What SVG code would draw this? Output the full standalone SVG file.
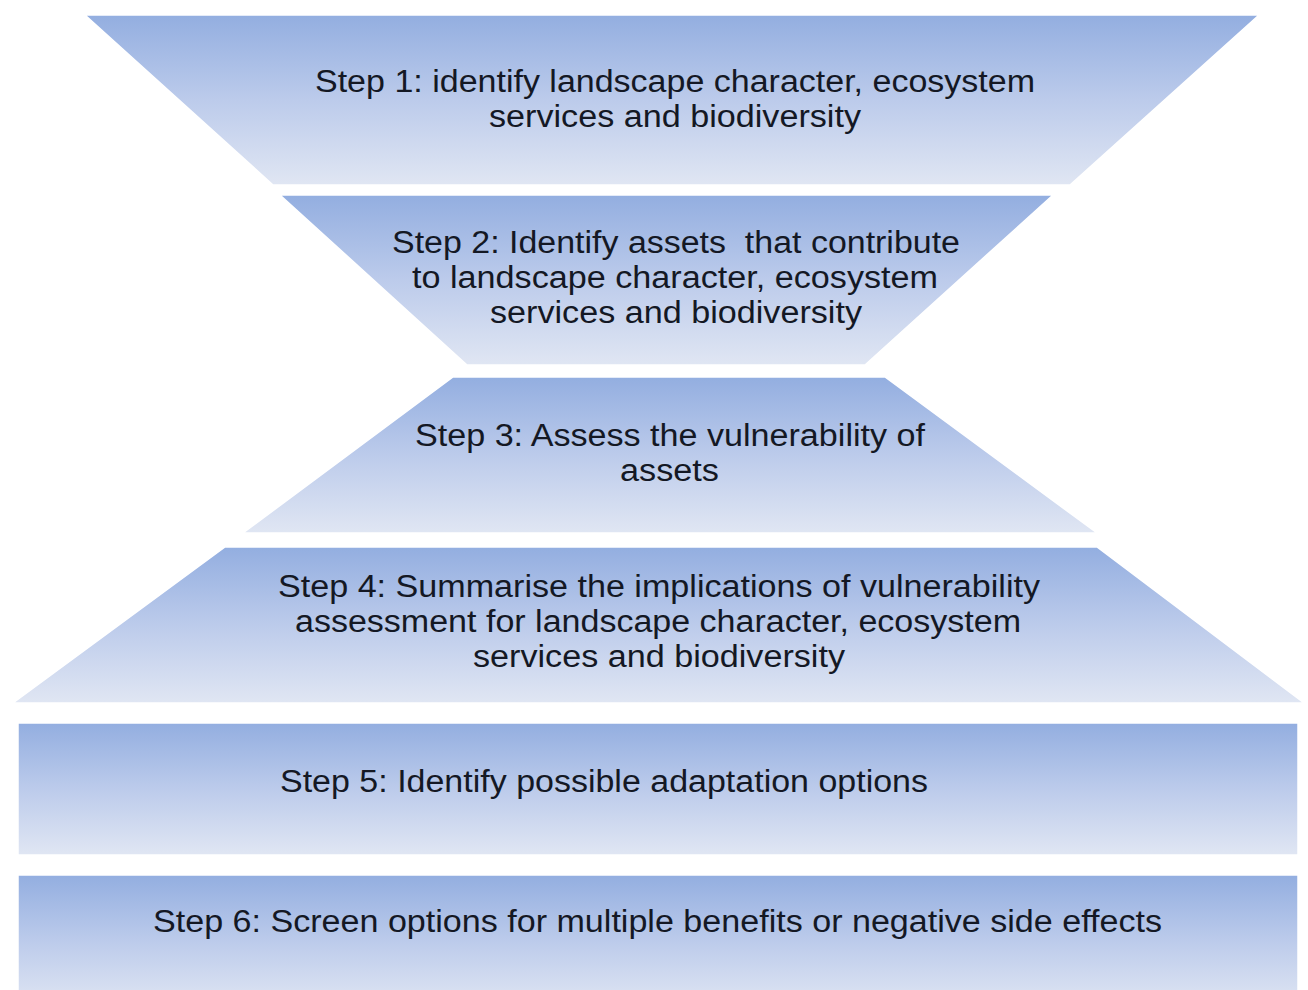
<svg xmlns="http://www.w3.org/2000/svg" width="1308" height="990" viewBox="0 0 1308 990">
<defs>
<linearGradient id="g" x1="0" y1="0" x2="0" y2="1">
<stop offset="0" stop-color="#93aee0"/>
<stop offset="0.5" stop-color="#bccbeb"/>
<stop offset="1" stop-color="#e0e6f3"/>
</linearGradient>
</defs>
<style>
.s{fill:url(#g);stroke:#ffffff;stroke-width:1.5}
.t{font-family:"Liberation Sans",Arial,sans-serif;font-size:31px;fill:#141824}
</style>
<rect width="1308" height="990" fill="#ffffff"/>
<g id="step1">
<polygon class="s" points="85,15 1259,15 1070,185 273,185"/>
<text class="t" x="315" y="92" textLength="720" lengthAdjust="spacingAndGlyphs">Step 1: identify landscape character, ecosystem</text>
<text class="t" x="489" y="127" textLength="372" lengthAdjust="spacingAndGlyphs">services and biodiversity</text>
</g>
<g id="step2">
<polygon class="s" points="280,195 1053,195 865,365 467,365"/>
<text class="t" x="392" y="253" textLength="568" lengthAdjust="spacingAndGlyphs" xml:space="preserve">Step 2: Identify assets  that contribute</text>
<text class="t" x="412" y="288" textLength="526" lengthAdjust="spacingAndGlyphs">to landscape character, ecosystem</text>
<text class="t" x="490" y="323" textLength="372" lengthAdjust="spacingAndGlyphs">services and biodiversity</text>
</g>
<g id="step3">
<polygon class="s" points="453,377 885,377 1097,533 243,533"/>
<text class="t" x="415" y="446" textLength="510" lengthAdjust="spacingAndGlyphs">Step 3: Assess the vulnerability of</text>
<text class="t" x="620" y="481" textLength="99" lengthAdjust="spacingAndGlyphs">assets</text>
</g>
<g id="step4">
<polygon class="s" points="225,547 1097,547 1304,703 13,703"/>
<text class="t" x="278" y="597" textLength="762" lengthAdjust="spacingAndGlyphs">Step 4: Summarise the implications of vulnerability</text>
<text class="t" x="295" y="632" textLength="726" lengthAdjust="spacingAndGlyphs">assessment for landscape character, ecosystem</text>
<text class="t" x="473" y="667" textLength="372" lengthAdjust="spacingAndGlyphs">services and biodiversity</text>
</g>
<g id="step5">
<rect class="s" x="18" y="723" width="1280" height="132"/>
<text class="t" x="280" y="792" textLength="648" lengthAdjust="spacingAndGlyphs">Step 5: Identify possible adaptation options</text>
</g>
<g id="step6">
<rect class="s" x="18" y="875" width="1280" height="132"/>
<text class="t" x="153" y="932" textLength="1009" lengthAdjust="spacingAndGlyphs">Step 6: Screen options for multiple benefits or negative side effects</text>
</g>
<g id="connectors"/>
</svg>
